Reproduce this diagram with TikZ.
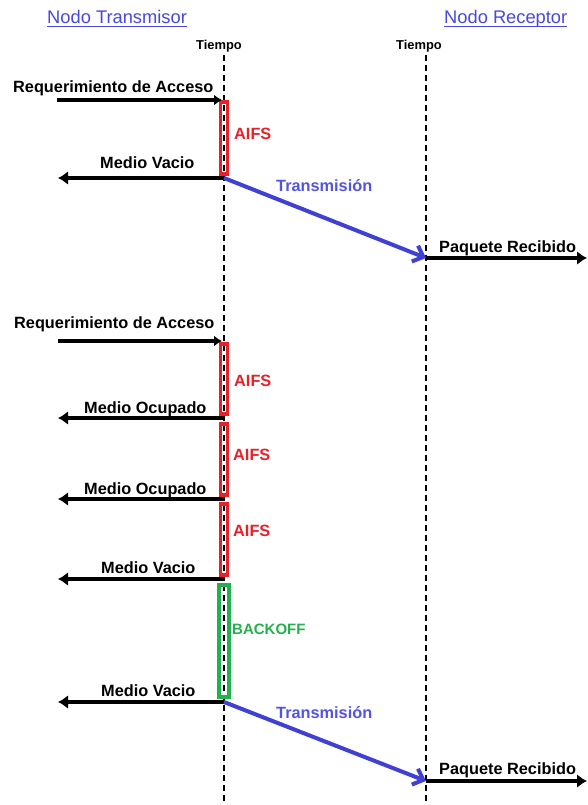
\documentclass[tikz,border=0pt]{standalone}
\usepackage{fontspec}
\setmainfont{Liberation Sans}
\usetikzlibrary{arrows.meta}
\definecolor{hdrblue}{RGB}{72,72,220}
\definecolor{txblue}{RGB}{64,64,210}
\definecolor{txtext}{RGB}{84,84,226}
\definecolor{aifsred}{RGB}{232,32,40}
\definecolor{boffgreen}{RGB}{34,177,76}
\begin{document}
\begin{tikzpicture}[x=1pt,y=-1pt,
  lifeline/.style={dash pattern=on 6pt off 4pt, line width=1.3pt},
  msg/.style={line width=3.6pt, -{Latex[length=10pt,width=14pt]}},
  reqmsg/.style={line width=3.6pt, -{Latex[length=8pt,width=11pt]}},
  txarrow/.style={draw=txblue, line width=4pt, -{Straight Barb[length=9pt,width=17pt,line width=4pt]}},
  waitbox/.style={draw=aifsred, line width=3.6pt, minimum width=6.7pt, inner sep=0pt},
  boffbox/.style={draw=boffgreen, line width=3.6pt, minimum width=10.4pt, inner sep=0pt},
  lbl/.style={font=\fontsize{16.3}{19}\selectfont\bfseries, inner sep=0pt},
  hdr/.style={font=\fontsize{18.3}{21}\selectfont, text=hdrblue, inner sep=0pt},
  hdrline/.style={draw=hdrblue, line width=1.6pt},
  tlbl/.style={font=\fontsize{12.9}{15}\selectfont\bfseries, inner sep=0pt},
  redlbl/.style={lbl, text=aifsred},
  greenlbl/.style={font=\fontsize{15}{18}\selectfont\bfseries, text=boffgreen, inner sep=0pt},
  txlbl/.style={lbl, text=txtext}]
\useasboundingbox (0,0) rectangle (587,805);

% headers with their underlines
\node[hdr, anchor=base west] (htx) at (47,24) {Nodo Transmisor};
\node[hdr, anchor=base west] (hrx) at (444,24) {Nodo Receptor};
\draw[hdrline] ([yshift=-2.6pt]htx.base west) -- ([yshift=-2.6pt]htx.base east);
\draw[hdrline] ([yshift=-2.6pt]hrx.base west) -- ([yshift=-2.6pt]hrx.base east);
\node[tlbl, anchor=base west] (ttx) at (196,50) {Tiempo};
\node[tlbl, anchor=base west] (trx) at (396,50) {Tiempo};

% lifelines
\coordinate (txtop) at (224,55);
\coordinate (txbot) at (224,805);
\coordinate (rxtop) at (426,55);
\coordinate (rxbot) at (426,805);
\draw[lifeline] (txtop) -- (txbot);
\draw[lifeline] (rxtop) -- (rxbot);

% event points
\coordinate (sq1) at (57,100);   \coordinate (q1) at (222,100);
\coordinate (v1) at (224,178);   \coordinate (ev1) at (58,178);
\coordinate (r1) at (426,258);   \coordinate (er1) at (587,258);
\coordinate (sq2) at (58,341);   \coordinate (q2) at (222,341);
\coordinate (o1) at (224,418);   \coordinate (eo1) at (58,418);
\coordinate (o2) at (224,499);   \coordinate (eo2) at (58,499);
\coordinate (v2) at (224,579);   \coordinate (ev2) at (58,579);
\coordinate (v3) at (224,702);   \coordinate (ev3) at (58,702);
\coordinate (r2) at (426,781);   \coordinate (er2) at (587,781);

% waiting intervals
\node[waitbox, minimum height=72.4pt] (w1) at (224,138) {};
\node[waitbox, minimum height=70.4pt] (w2) at (224,379) {};
\node[waitbox, minimum height=71.4pt] (w3) at (224,459.5) {};
\node[waitbox, minimum height=71.4pt] (w4) at (224,539.5) {};
\node[boffbox, minimum height=112.4pt] (bo) at (224,641) {};

\node[redlbl, anchor=base west] (a1) at (234,140) {AIFS};
\node[redlbl, anchor=base west] (a2) at (234,386) {AIFS};
\node[redlbl, anchor=base west] (a3) at (233,460) {AIFS};
\node[redlbl, anchor=base west] (a4) at (233,536) {AIFS};
\node[greenlbl, anchor=base west] (ab) at (232,634) {BACKOFF};

% first exchange
\draw[reqmsg] (sq1) -- (q1);
\node[lbl, anchor=base west] (lq1) at (13,93) {Requerimiento de Acceso};
\draw[msg] (v1) -- (ev1);
\node[lbl, anchor=base west] (lv1) at (100,169) {Medio Vacio};
\draw[txarrow] (v1) -- (r1);
\node[txlbl, anchor=base west] (lt1) at (276,192) {Transmisión};
\draw[msg] (r1) -- (er1);
\node[lbl, anchor=base west] (lr1) at (439,252) {Paquete Recibido};

% second exchange
\draw[reqmsg] (sq2) -- (q2);
\node[lbl, anchor=base west] (lq2) at (14,328) {Requerimiento de Acceso};
\draw[msg] (o1) -- (eo1);
\node[lbl, anchor=base west] (lo1) at (84,413) {Medio Ocupado};
\draw[msg] (o2) -- (eo2);
\node[lbl, anchor=base west] (lo2) at (84,494) {Medio Ocupado};
\draw[msg] (v2) -- (ev2);
\node[lbl, anchor=base west] (lv2) at (101,573) {Medio Vacio};
\draw[msg] (v3) -- (ev3);
\node[lbl, anchor=base west] (lv3) at (101,696) {Medio Vacio};
\draw[txarrow] (v3) -- (r2);
\node[txlbl, anchor=base west] (lt2) at (276,718) {Transmisión};
\draw[msg] (r2) -- (er2);
\node[lbl, anchor=base west] (lr2) at (439,774) {Paquete Recibido};
\end{tikzpicture}
\end{document}
